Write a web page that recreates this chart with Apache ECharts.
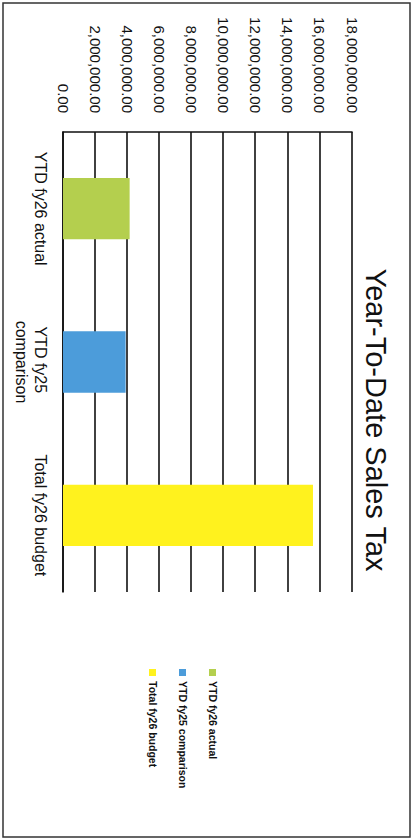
<!DOCTYPE html>
<html>
<head>
<meta charset="utf-8">
<script src="https://cdn.jsdelivr.net/npm/echarts@6/dist/echarts.min.js"></script>
<style>
  html, body { margin: 0; padding: 0; background: #fff; overflow: hidden; width: 413px; height: 840px; }
  #chart {
    position: absolute; left: 0; top: 0;
    width: 840px; height: 413px;
    transform-origin: 0 0;
    transform: translate(413px, 0) rotate(90deg);
  }
</style>
</head>
<body>
<div id="chart"></div>
<script>
// ---- data ----
const titleText = 'Year-To-Date Sales Tax';
const categories = ['YTD fy26 actual', 'YTD fy25 comparison', 'Total fy26 budget'];
const seriesNames = ['YTD fy26 actual', 'YTD fy25 comparison', 'Total fy26 budget'];
const fy26Actual = [4150000, null, null];
const fy25Comparison = [null, 3900000, null];
const fy26Budget = [null, null, 15570000];
const valueMin = 0;
const valueMax = 18000000;
const valueInterval = 2000000;
const colors = ['#B4CF4E', '#4C9CDA', '#FFF21E'];

const chart = echarts.init(document.getElementById('chart'), null, { renderer: 'svg', width: 840, height: 413 });
const fmt = v => Number(v).toLocaleString('en-US', { minimumFractionDigits: 2, maximumFractionDigits: 2 });
const font = '"Liberation Sans", Arial, sans-serif';

const seriesData = [fy26Actual, fy25Comparison, fy26Budget];
chart.setOption({
  animation: false,
  backgroundColor: '#fff',
  title: {
    text: titleText,
    left: 'center',
    top: 18,
    textStyle: { fontFamily: font, fontSize: 29, fontWeight: 'normal', color: '#111' }
  },
  legend: {
    orient: 'vertical',
    left: 664,
    top: 190,
    itemWidth: 7,
    itemHeight: 7,
    itemGap: 19,
    icon: 'rect',
    textStyle: { fontFamily: font, fontSize: 10.5, fontWeight: 'bold', color: '#111' },
    data: seriesNames
  },
  grid: { left: 132, top: 61, width: 460, height: 289 },
  xAxis: {
    type: 'category',
    data: categories,
    axisLine: { show: true, lineStyle: { color: '#111', width: 1.6 } },
    axisTick: { show: false },
    axisLabel: {
      fontFamily: font, fontSize: 16, color: '#111', margin: 13,
      lineHeight: 19, width: 135, overflow: 'break', interval: 0
    }
  },
  yAxis: {
    type: 'value',
    min: valueMin, max: valueMax, interval: valueInterval,
    axisLine: { show: true, lineStyle: { color: '#111', width: 1.6 } },
    axisTick: { show: false },
    splitLine: { show: true, lineStyle: { color: '#111', width: 1.6 } },
    axisLabel: { fontFamily: font, fontSize: 15, color: '#111', margin: 19, formatter: fmt }
  },
  graphic: [{
    type: 'rect',
    shape: { x: 3, y: 3, width: 834, height: 407 },
    style: { fill: 'none', stroke: '#333', lineWidth: 1.5 },
    silent: true
  }],
  series: seriesNames.map((name, i) => ({
    name: name,
    type: 'bar',
    stack: 'all',
    barWidth: '40%',
    itemStyle: { color: colors[i] },
    data: seriesData[i]
  }))
});
</script>
</body>
</html>
